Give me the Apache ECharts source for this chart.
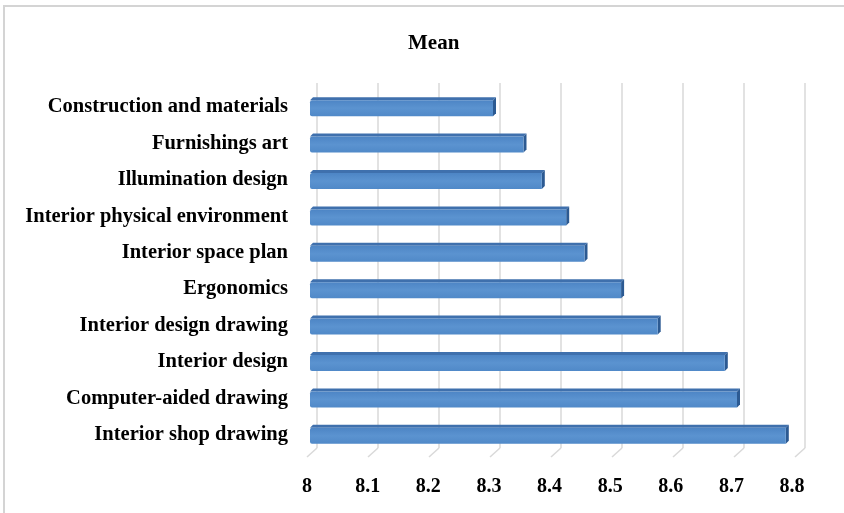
<!DOCTYPE html>
<html>
<head>
<meta charset="utf-8">
<script src="https://cdn.jsdelivr.net/npm/echarts@6/dist/echarts.min.js"></script>
<style>
  html, body { margin: 0; padding: 0; background: #fff; }
  #chart { width: 844px; height: 513px; }
</style>
</head>
<body>
<div id="chart"></div>
<script>
const categories = [
  'Construction and materials',
  'Furnishings art',
  'Illumination design',
  'Interior physical environment',
  'Interior space plan',
  'Ergonomics',
  'Interior design drawing',
  'Interior design',
  'Computer-aided drawing',
  'Interior shop drawing'
]
const meanValues = [8.30, 8.35, 8.38, 8.42, 8.45, 8.51, 8.57, 8.68, 8.70, 8.78]
const tickValues = [8, 8.1, 8.2, 8.3, 8.4, 8.5, 8.6, 8.7, 8.8]

const FONT = "'Liberation Serif', 'Times New Roman', serif"
const GRID_GRAY = '#d9d9d9'
// 3d look
const DEPTH = 3
const FLOOR_DX = -10
const FLOOR_DY = 9

const chart = echarts.init(document.getElementById('chart'))

function renderBar(params, api) {
  const i = api.value(0)
  const v = api.value(1)
  const start = api.coord([8, i])
  const end = api.coord([v, i])
  const h = 16
  const x0 = start[0]
  const x1 = end[0]
  const y0 = end[1] - h / 2 + 1
  const y1 = y0 + h
  const d = DEPTH
  return {
    type: 'group',
    children: [
      {
        type: 'polygon',
        shape: { points: [[x0, y0], [x0 + d, y0 - d], [x1 + d, y0 - d], [x1, y0]] },
        style: { fill: '#3f70ad' }
      },
      {
        type: 'polygon',
        shape: { points: [[x1, y0], [x1 + d, y0 - d], [x1 + d, y1 - d], [x1, y1]] },
        style: { fill: '#2c5a92' }
      },
      {
        type: 'rect',
        shape: { x: x0, y: y0, width: x1 - x0, height: h, r: [2, 0, 0, 2] },
        style: {
          fill: new echarts.graphic.LinearGradient(0, 0, 0, 1, [
            { offset: 0, color: '#4d85c5' },
            { offset: 0.5, color: '#5b93d0' },
            { offset: 1, color: '#5089c8' }
          ])
        }
      }
    ]
  }
}

function renderFloor(params, api) {
  const p = api.coord([api.value(0), 0])
  return {
    type: 'line',
    shape: { x1: p[0], y1: p[1], x2: p[0] + FLOOR_DX, y2: p[1] + FLOOR_DY },
    style: { stroke: GRID_GRAY, lineWidth: 1.5 }
  }
}

chart.setOption({
  animation: false,
  title: {
    text: 'Mean',
    left: 403,
    top: 28,
    textStyle: { fontFamily: FONT, fontWeight: 'bold', fontSize: 21, color: '#000' }
  },
  graphic: [
    {
      type: 'rect',
      shape: { x: 4, y: 6, width: 900, height: 600 },
      style: { fill: 'none', stroke: '#d4d4d4', lineWidth: 2 },
      silent: true
    }
  ],
  grid: [
    // back wall
    { left: 317, top: 83, width: 488, height: 365 },
    // front floor edge (tick labels)
    { left: 307, top: 92, width: 485, height: 365 },
    // bars
    { left: 310, top: 89, width: 488, height: 364 }
  ],
  xAxis: [
    {
      gridIndex: 0, type: 'value', min: 8, max: 8.8, interval: 0.1,
      axisLine: { show: false }, axisTick: { show: false }, axisLabel: { show: false },
      splitLine: { show: true, lineStyle: { color: GRID_GRAY, width: 1.5 } }
    },
    {
      gridIndex: 1, type: 'value', min: 8, max: 8.8, interval: 0.1,
      axisLine: { show: false }, axisTick: { show: false }, splitLine: { show: false },
      axisLabel: {
        margin: 20,
        fontFamily: FONT, fontWeight: 'bold', fontSize: 20, color: '#000',
        formatter: v => String(Math.round(v * 10) / 10)
      }
    },
    {
      gridIndex: 2, type: 'value', min: 8, max: 8.8, show: false
    }
  ],
  yAxis: [
    { gridIndex: 0, type: 'value', min: 0, max: 1, show: false },
    { gridIndex: 1, type: 'value', min: 0, max: 1, show: false },
    {
      gridIndex: 2, type: 'category', inverse: true, data: categories,
      axisLine: { show: false }, axisTick: { show: false },
      axisLabel: {
        margin: 22,
        padding: [6, 0, 0, 0],
        fontFamily: FONT, fontWeight: 'bold', fontSize: 20.5, color: '#000'
      }
    }
  ],
  series: [
    {
      type: 'custom',
      xAxisIndex: 0, yAxisIndex: 0,
      renderItem: renderFloor,
      data: tickValues.map(v => [v]),
      silent: true
    },
    {
      type: 'custom',
      name: 'Mean',
      xAxisIndex: 2, yAxisIndex: 2,
      renderItem: renderBar,
      encode: { x: 1, y: 0 },
      data: meanValues.map((v, i) => [i, v])
    }
  ]
})
</script>
</body>
</html>
